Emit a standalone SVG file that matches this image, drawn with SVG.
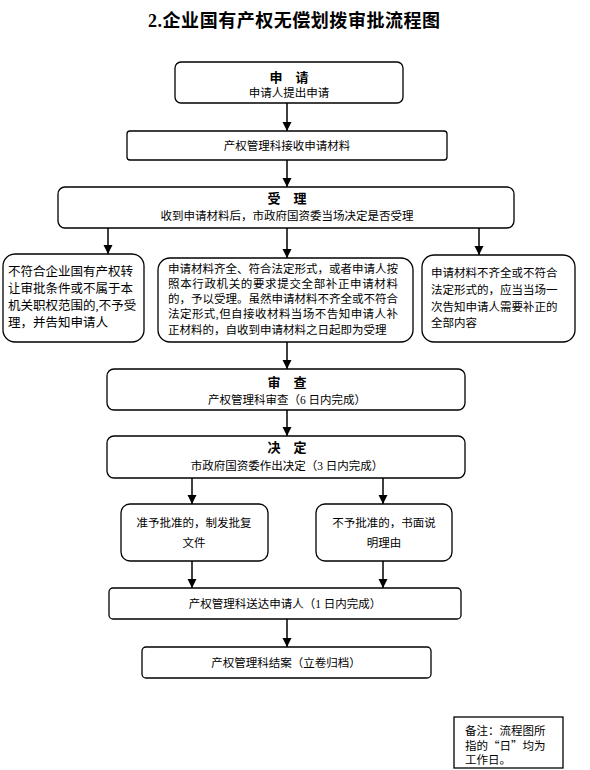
<svg xmlns="http://www.w3.org/2000/svg" width="590" height="770" viewBox="0 0 590 770">
<defs>
<marker id="ah" markerUnits="userSpaceOnUse" markerWidth="10" markerHeight="10" refX="9" refY="4.5" orient="auto">
<path d="M0,0 L9,4.5 L0,9 Z" fill="#000"/>
</marker>
<style>
.box{fill:#fff;stroke:#000;stroke-width:1.3}
.ln{fill:none;stroke:#000;stroke-width:1.5}
.arr{fill:none;stroke:#000;stroke-width:1.5;marker-end:url(#ah)}
text{font-family:"Liberation Serif","Noto Sans CJK SC",serif;fill:#000}
.cjk{font-family:"Noto Sans CJK SC",sans-serif}
.h{font-size:13px;font-weight:bold;text-anchor:middle}
.s{font-size:11.5px;text-anchor:middle}
.t{font-size:11.5px}
.l{font-size:12.5px}
.title{font-size:18px;font-weight:bold;text-anchor:middle}
</style>
</defs>
<rect width="590" height="770" fill="#fff"/>
<text class="title" x="294" y="27" textLength="292" lengthAdjust="spacing">2.企业国有产权无偿划拨审批流程图</text>

<g id="connectors">
<line class="arr" x1="287" y1="103" x2="287" y2="131"/>
<line class="arr" x1="287" y1="160" x2="287" y2="187"/>
<line class="arr" x1="108" y1="228" x2="108" y2="254"/>
<line class="arr" x1="287" y1="228" x2="287" y2="258"/>
<line class="arr" x1="479" y1="228" x2="479" y2="255"/>
<line class="arr" x1="287" y1="342" x2="287" y2="369"/>
<line class="arr" x1="287" y1="410" x2="287" y2="436"/>
<line class="arr" x1="192" y1="478" x2="192" y2="504"/>
<line class="arr" x1="383" y1="478" x2="383" y2="504"/>
<line class="arr" x1="192" y1="561" x2="192" y2="588"/>
<line class="arr" x1="383" y1="561" x2="383" y2="588"/>
<line class="arr" x1="287" y1="619" x2="287" y2="647"/>
</g>

<g id="n-apply">
<rect class="box" x="175" y="62" width="228" height="41" rx="6"/>
<text class="h" x="289" y="82">申　请</text>
<text class="s" x="289" y="97">申请人提出申请</text>
</g>

<g id="n-receive">
<rect class="box" x="127" y="131" width="320" height="29" rx="3"/>
<text class="s" x="287" y="150">产权管理科接收申请材料</text>
</g>

<g id="n-accept">
<rect class="box" x="58" y="187" width="456" height="41" rx="7"/>
<text class="h" x="287" y="203">受　理</text>
<text class="s" x="287" y="220">收到申请材料后，市政府国资委当场决定是否受理</text>
</g>

<g id="n-reject">
<rect class="box" x="3" y="254" width="141" height="88" rx="12"/>
<text class="l" x="8" y="276">不符合企业国有产权转</text>
<text class="l" x="8" y="293">让审批条件或不属于本</text>
<text class="l" x="8" y="310">机关职权范围的,不予受</text>
<text class="l" x="8" y="327">理，并告知申请人</text>
</g>

<g id="n-accepted">
<rect class="box" x="158" y="258" width="255" height="84" rx="12"/>
<text class="t" x="168" y="273" textLength="230" lengthAdjust="spacing">申请材料齐全、符合法定形式，或者申请人按</text>
<text class="t" x="168" y="288" textLength="230" lengthAdjust="spacing">照本行政机关的要求提交全部补正申请材料</text>
<text class="t" x="168" y="303" textLength="230" lengthAdjust="spacing">的，予以受理。虽然申请材料不齐全或不符合</text>
<text class="t" x="168" y="318" textLength="230" lengthAdjust="spacing">法定形式,但自接收材料当场不告知申请人补</text>
<text class="t" x="168" y="334">正材料的，自收到申请材料之日起即为受理</text>
</g>

<g id="n-supplement">
<rect class="box" x="422" y="255" width="153" height="87" rx="12"/>
<text class="t" x="431" y="277">申请材料不齐全或不符合</text>
<text class="t" x="431" y="294">法定形式的，应当当场一</text>
<text class="t" x="431" y="311">次告知申请人需要补正的</text>
<text class="t" x="431" y="327">全部内容</text>
</g>

<g id="n-review">
<rect class="box" x="107" y="369" width="358" height="41" rx="7"/>
<text class="h" x="287" y="387">审　查</text>
<text class="s" x="287" y="404">产权管理科审查（6 日内完成）</text>
</g>

<g id="n-decide">
<rect class="box" x="107" y="436" width="358" height="42" rx="7"/>
<text class="h" x="287" y="452">决　定</text>
<text class="s" x="287" y="470">市政府国资委作出决定（3 日内完成）</text>
</g>

<g id="n-approve">
<rect class="box" x="121" y="504" width="147" height="57" rx="9"/>
<text class="s" x="194" y="527">准予批准的，制发批复</text>
<text class="s" x="194" y="547">文件</text>
</g>

<g id="n-deny">
<rect class="box" x="316" y="504" width="136" height="57" rx="9"/>
<text class="s" x="384" y="527">不予批准的，书面说</text>
<text class="s" x="384" y="547">明理由</text>
</g>

<g id="n-deliver">
<rect class="box" x="109" y="588" width="352" height="31" rx="4"/>
<text class="s" x="285" y="608">产权管理科送达申请人（1 日内完成）</text>
</g>

<g id="n-close">
<rect class="box" x="142" y="647" width="289" height="31" rx="4"/>
<text class="s" x="286" y="667">产权管理科结案（立卷归档）</text>
</g>

<g id="n-note">
<rect class="box" x="454" y="717" width="109" height="51"/>
<text class="t" x="465" y="735">备注：流程图所</text>
<text class="t cjk" x="465" y="750">指的“日”均为</text>
<text class="t" x="465" y="764">工作日。</text>
</g>
</svg>
